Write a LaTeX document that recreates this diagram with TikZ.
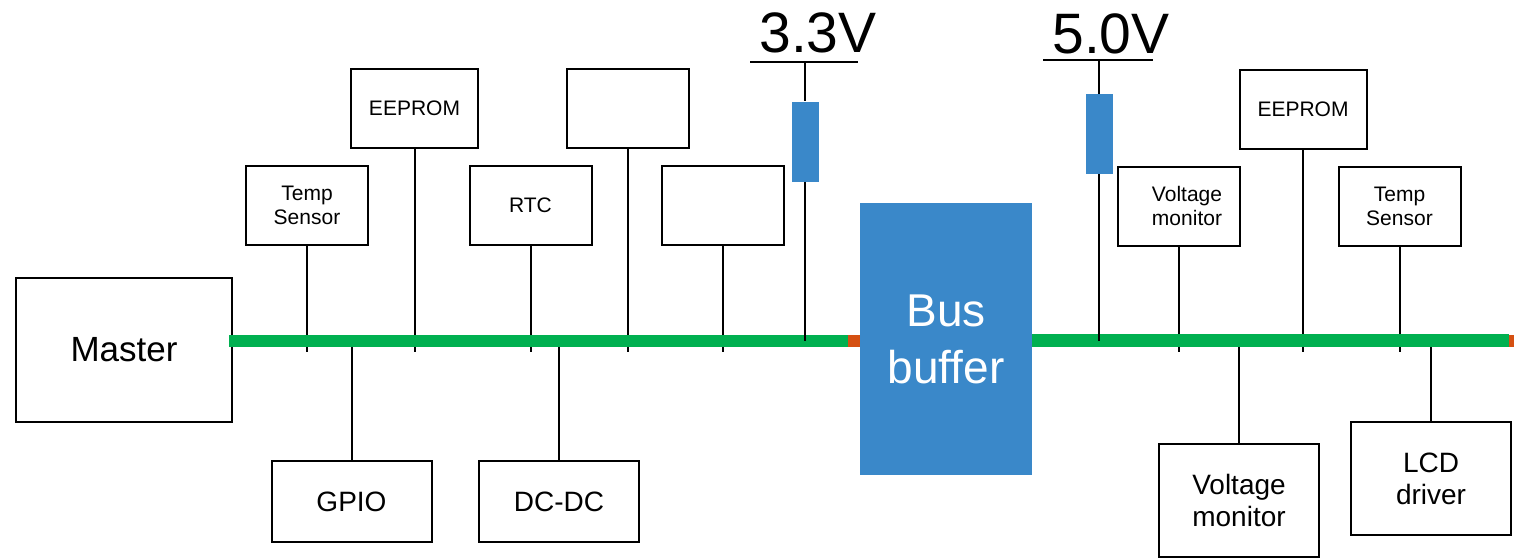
\documentclass[tikz,border=0pt]{standalone}
\usepackage{fontspec}
\setmainfont{Liberation Sans}
\usepackage{xcolor}
\usetikzlibrary{positioning, fit, calc, backgrounds}
\definecolor{busgreen}{RGB}{0,176,80}
\definecolor{bufblue}{RGB}{58,136,201}
\definecolor{busorange}{RGB}{213,80,18}

\begin{document}
\begin{tikzpicture}[
    x=0.5pt, y=-0.5pt,
    unit/.style={rectangle, draw, line width=1pt, inner sep=0pt, align=center, minimum width=61pt, minimum height=39.5pt, font=\fontsize{10.5}{12}\selectfont},
    wideunit/.style={unit, minimum width=63.5pt},
    iounit/.style={unit, minimum width=80pt, minimum height=40.5pt, font=\fontsize{14}{16}\selectfont},
    bigunit/.style={iounit, minimum height=56.5pt},
    master/.style={rectangle, draw, line width=0.6pt, minimum width=108pt, minimum height=72pt, font=\fontsize{17.5}{20}\selectfont},
    buffer/.style={rectangle, fill=bufblue, text=white, inner sep=0pt, align=center, minimum width=86pt, minimum height=136pt, font=\fontsize{23}{28.5}\selectfont},
    pullup/.style={rectangle, fill=bufblue, inner sep=0pt, minimum width=13.5pt, minimum height=40pt},
    supply/.style={inner sep=0pt, font=\fontsize{28.5}{30}\selectfont},
    bus/.style={rectangle, fill=busgreen, inner sep=0pt},
    busend/.style={rectangle, fill=busorange, inner sep=0pt},
    link/.style={line width=1pt},
]
    \useasboundingbox (0,0) rectangle (1522,558);

    % Master, bus and buffer
    \node[master] (master) at (124,350) {Master};
    \node[bus, fit={(229,335) (848,347)}] (busL) {};
    \node[busend, fit={(848,335) (860,347)}] (endL) {};
    \node[buffer] (buffer) at (946,339) {Bus\\buffer};
    \node[bus, fit={(1032,334) (1509,347)}] (busR) {};
    \node[busend, fit={(1509,335) (1514,347)}] (endR) {};

    % 3.3V side, above the bus
    \node[unit] (tsL) at (307,205.5) {Temp\\Sensor};
    \node[wideunit] (eeL) at (414.5,108.5) {EEPROM};
    \node[unit] (rtc) at (530.5,205.5) {RTC};
    \node[unit] (blankA) at (627.5,108.5) {};
    \node[unit] (blankB) at (723,205.5) {};

    % 3.3V side, below the bus
    \node[iounit] (gpio) at (351.5,501.5) {GPIO};
    \node[iounit] (dcdc) at (559,501.5) {DC-DC};

    % 5.0V side, above the bus
    \node[unit] (vmT) at (1179,206) {\hspace{8pt}Voltage\\\hspace{8pt}monitor};
    \node[wideunit] (eeR) at (1303,109) {EEPROM};
    \node[unit] (tsR) at (1399.5,206) {Temp\\Sensor};

    % 5.0V side, below the bus
    \node[bigunit] (vmB) at (1239,500) {Voltage\\monitor};
    \node[bigunit] (lcd) at (1431,478.5) {LCD\\driver};

    % stubs, behind the bus
    \begin{scope}[on background layer]
        \foreach \u in {tsL, eeL, rtc, blankA, blankB}
            \draw[link] (\u.south) -- ($(\u.south |- busL.south)+(0,5)$);
        \foreach \u in {vmT, eeR, tsR}
            \draw[link] (\u.south) -- ($(\u.south |- busR.south)+(0,5)$);
        \foreach \u in {gpio, dcdc}
            \draw[link] (\u.north) -- (\u.north |- busL.center);
        \foreach \u in {vmB, lcd}
            \draw[link] (\u.north) -- (\u.north |- busR.center);
    \end{scope}

    % pull-ups
    \node[supply] (v33) at (818,33) {3.3V};
    \coordinate (rail33w) at (750,62);
    \coordinate (rail33e) at (858,62);
    \draw[link] (rail33w) -- (rail33e);
    \node[pullup] (r33) at (805,141.5) {};
    \draw[link] (r33.north |- rail33w) -- (r33.north);
    \draw[link] (r33.south) -- (r33.south |- busL.center);

    \node[supply] (v50) at (1111,34) {5.0V};
    \coordinate (rail50w) at (1043,60);
    \coordinate (rail50e) at (1153,60);
    \draw[link] (rail50w) -- (rail50e);
    \node[pullup] (r50) at (1099,134) {};
    \draw[link] (r50.north |- rail50w) -- (r50.north);
    \draw[link] (r50.south) -- (r50.south |- busR.center);
\end{tikzpicture}
\end{document}
